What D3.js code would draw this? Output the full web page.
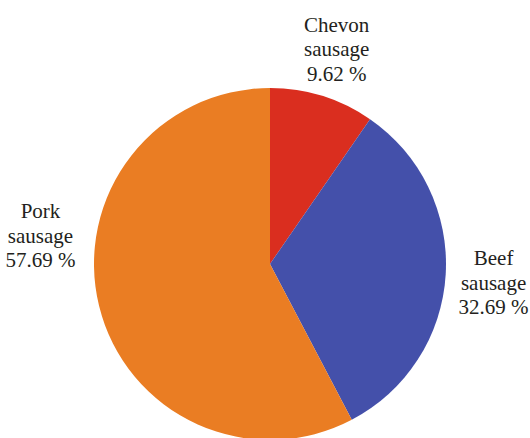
<!DOCTYPE html>
<html><head><meta charset="utf-8">
<script src="https://cdn.jsdelivr.net/npm/d3@7"></script>
<style>html,body{margin:0;padding:0;background:#fff;}svg{display:block;}
svg text{font-family:"Liberation Serif",Tinos,"Times New Roman",serif !important;font-size:21px;fill:#231f20;}</style>
</head><body>
<svg id="c" width="530" height="438" font-family="Liberation Serif, serif"></svg>
<script>
const categories = ["Chevon sausage", "Beef sausage", "Pork sausage"];
const values = [9.62, 32.69, 57.69];
const nameLines = [["Chevon", "sausage"], ["Beef", "sausage"], ["Pork", "sausage"]];
const colors = ["#da2e1f", "#4450aa", "#ea7d23"];

const svg = d3.select("#c");
const cx = 270, cy = 264, r = 176;
const g = svg.append("g").attr("transform", `translate(${cx},${cy})`);
const pie = d3.pie().sort(null).value(d => d)(values);
const arc = d3.arc().innerRadius(0).outerRadius(r);
g.selectAll("path").data(pie).enter().append("path")
  .attr("d", arc).attr("fill", (d, i) => colors[i]);

// label placement: radial from slice mid-angle, with small per-label nudges
const labelArc = d3.arc().innerRadius(224).outerRadius(224);
const nudge = [[0, 6], [0, 12], [-12, -75]];
pie.forEach((d, i) => {
  const [x, y] = labelArc.centroid(d);
  const lines = [...nameLines[i], values[i].toFixed(2) + " %"];
  lines.forEach((s, k) => {
    svg.append("text")
      .attr("x", cx + x + nudge[i][0])
      .attr("y", cy + y + nudge[i][1] + (k - 1) * 24.5)
      .attr("text-anchor", "middle")
      .text(s);
  });
});
</script>
</body></html>
